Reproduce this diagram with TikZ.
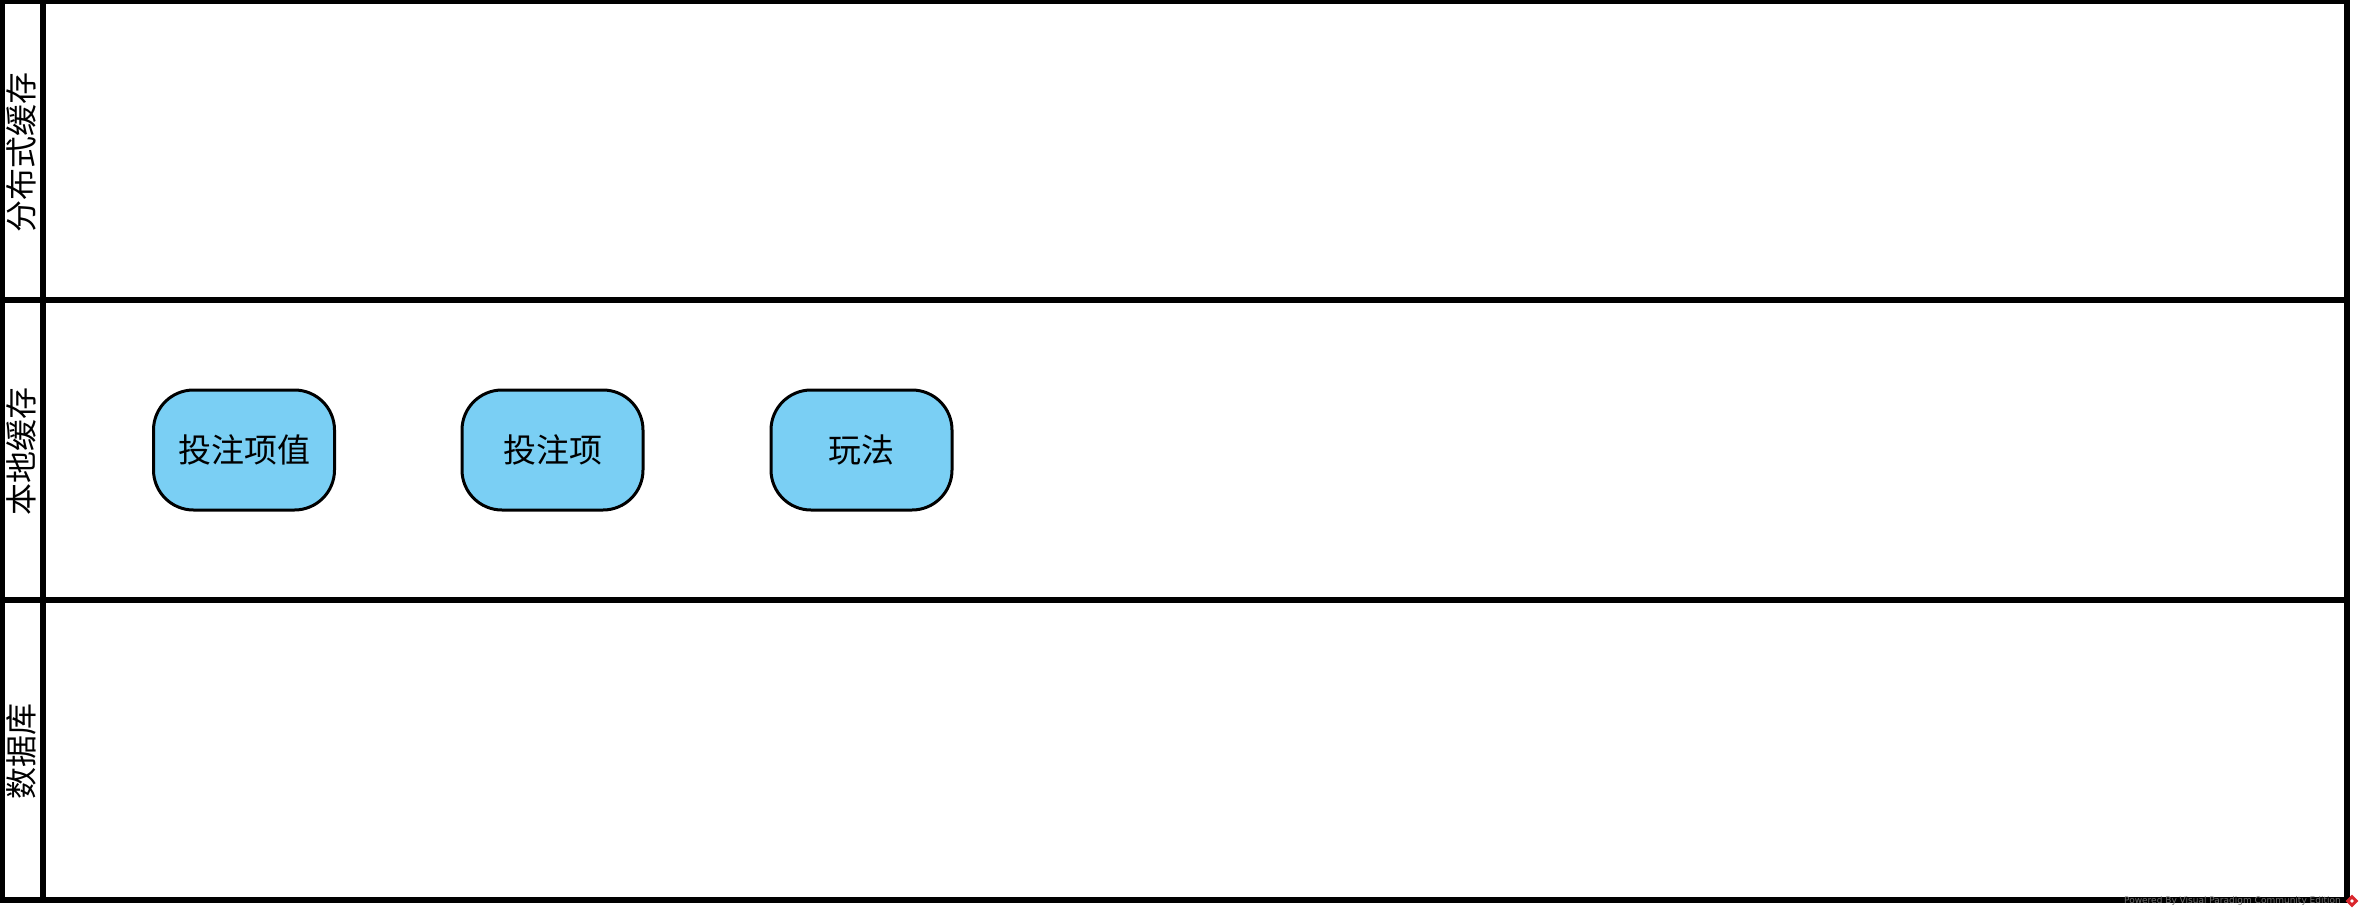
\documentclass[tikz,border=0pt]{standalone}
\usepackage{fontspec}
\setmainfont{Noto Sans CJK SC}
\newfontfamily\wmfont{DejaVu Sans}
\definecolor{stateblue}{HTML}{7ACFF4}
\definecolor{wmgray}{HTML}{6E6E6E}
\definecolor{wmred}{HTML}{D9262C}
\begin{document}
\begin{tikzpicture}[x=1pt,y=-1pt,
  lane/.style={line width=6pt,draw=black},
  lanelabel/.style={rotate=90,font=\fontsize{32}{32}\selectfont,inner sep=0pt},
  state/.style={draw=black,line width=3pt,fill=stateblue,rounded corners=40pt,
    minimum width=181pt,minimum height=120pt,inner sep=0pt,
    font=\fontsize{33}{33}\selectfont}]
\useasboundingbox (0,0) rectangle (2364,918);
% pool frame and lanes
\draw[lane] (1.5,1) rectangle (2347,900);
\draw[lane] (42.5,1) -- (42.5,900);
\draw[lane] (1.5,300) -- (2347,300);
\draw[lane] (1.5,600) -- (2347,600);
% lane headers
\node[lanelabel] (l1) at (21,152) {分布式缓存};
\node[lanelabel] (l2) at (21,451) {本地缓存};
\node[lanelabel] (l3) at (21,751) {数据库};
% states in the local-cache lane
\node[state] (v) at (244,450) {投注项值};
\node[state] (i) at (552.5,450) {投注项};
\node[state] (p) at (861.5,450) {玩法};
% tool footer
\node[anchor=east,inner sep=0pt,text=wmgray,font=\wmfont\fontsize{9}{9}\selectfont] (wm) at (2341,901) {Powered By Visual Paradigm Community Edition};
\node[draw=none,fill=wmred,rotate=45,minimum size=9pt,inner sep=0pt] (wmi) at (2352,901) {};
\fill[white] (wmi.center) circle (1.8pt);
\end{tikzpicture}
\end{document}
